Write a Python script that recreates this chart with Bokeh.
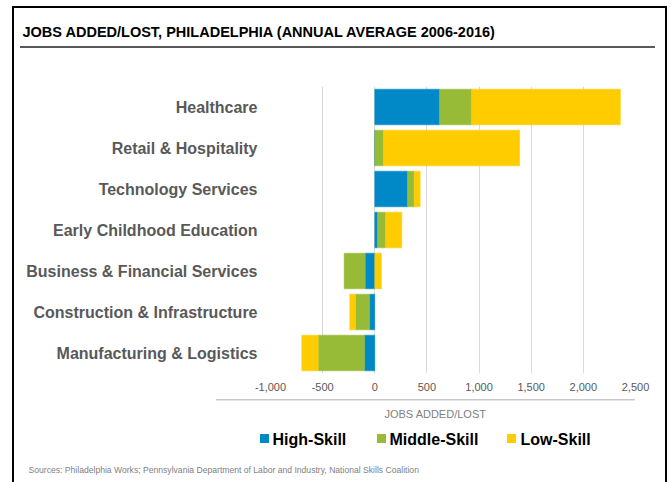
from bokeh.plotting import figure
from bokeh.models import (Range1d, FactorRange, FixedTicker, NumeralTickFormatter, Label)
from bokeh.embed import file_html
from bokeh.resources import INLINE

categories = ["Healthcare", "Retail & Hospitality", "Technology Services",
              "Early Childhood Education", "Business & Financial Services",
              "Construction & Infrastructure", "Manufacturing & Logistics"]
high_skill = [621, 0, 314, 26, -92, -51, -99]
middle_skill = [307, 83, 64, 77, -202, -134, -444]
low_skill = [1427, 1306, 57, 156, 64, -55, -157]
x_ticks = [-1000, -500, 0, 500, 1000, 1500, 2000, 2500]
series_names = ["High-Skill", "Middle-Skill", "Low-Skill"]
colors = ["#0088C7", "#97BB36", "#FFCC00"]
title_text = "JOBS ADDED/LOST, PHILADELPHIA (ANNUAL AVERAGE 2006-2016)"
x_label = "JOBS ADDED/LOST"
source_text = ("Sources: Philadelphia Works; Pennsylvania Department of Labor and Industry, "
               "National Skills Coalition")

FONT = "Liberation Sans"
W, H = 671, 482

# legend layout (canvas pixels): swatch left edge and label left edge per series
legend_swatch_x = [260, 377, 507]
legend_text_x = [272, 389, 520]

# page frame, title rule, axis rule and legend swatches as CSS background of the figure
bg_images = (["linear-gradient(#000, #000)"] * 3
             + ["linear-gradient(#595959, #595959)", "linear-gradient(#c8c8c8, #c8c8c8)"]
             + ["linear-gradient(%s, %s)" % (c, c) for c in colors])
bg_sizes = (["2px 482px", "2px 482px", "655px 2px", "635px 2px", "419px 1.5px"]
            + ["9px 9px"] * len(colors))
bg_pos = (["12px 6px", "665px 6px", "12px 6px", "20px 46px", "216px 398.5px"]
          + ["%dpx 434px" % sx for sx in legend_swatch_x])
frame_css = {
    "background-color": "white",
    "background-image": ", ".join(bg_images),
    "background-size": ", ".join(bg_sizes),
    "background-position": ", ".join(bg_pos),
    "background-repeat": "no-repeat",
}

p = figure(width=W, height=H, output_backend="svg", toolbar_location=None,
           y_range=FactorRange(*categories[::-1]), x_range=Range1d(-1000, 2500),
           min_border_left=270, min_border_right=36, min_border_top=86,
           min_border_bottom=109, background_fill_color="white",
           border_fill_color=None, styles=frame_css)
p.outline_line_color = None

# stacked bars: positives stack right of 0, negatives stack left of 0
n = len(categories)
pos_base = [0.0] * n
neg_base = [0.0] * n
renderers = []
for vals, col, nm in zip([high_skill, middle_skill, low_skill], colors, series_names):
    left, right = [], []
    for i, v in enumerate(vals):
        if v >= 0:
            left.append(pos_base[i]); right.append(pos_base[i] + v); pos_base[i] += v
        else:
            right.append(neg_base[i]); left.append(neg_base[i] + v); neg_base[i] += v
    r = p.hbar(y=categories, left=left, right=right, height=0.87,
               fill_color=col, line_color=col, line_width=0.5, name=nm)
    renderers.append(r)

# axes
ticker = FixedTicker(ticks=x_ticks)
p.xaxis.ticker = ticker
p.xgrid.ticker = ticker
p.xaxis.formatter = NumeralTickFormatter(format="0,0")
p.xaxis.axis_line_color = None
p.xaxis.major_tick_line_color = None
p.xaxis.minor_tick_line_color = None
p.xaxis.major_tick_out = 0
p.xaxis.major_tick_in = 0
p.xaxis.minor_tick_out = 0
p.xaxis.major_label_text_font = FONT
p.xaxis.major_label_text_font_size = "11px"
p.xaxis.major_label_text_color = "#595959"
p.xaxis.major_label_standoff = 9

p.yaxis.axis_line_color = None
p.yaxis.major_tick_line_color = None
p.yaxis.minor_tick_line_color = None
p.yaxis.major_tick_out = 0
p.yaxis.major_tick_in = 0
p.yaxis.minor_tick_out = 0
p.yaxis.major_label_text_font = FONT
p.yaxis.major_label_text_font_size = "16px"
p.yaxis.major_label_text_font_style = "bold"
p.yaxis.major_label_text_color = "#595959"
p.yaxis.major_label_standoff = 13

p.xgrid.grid_line_color = "#d9d9d9"
p.ygrid.grid_line_color = None


def canvas_label(x, y, text, size, color, bold=False, align="left"):
    return Label(x=x, y=y, x_units="canvas", y_units="canvas", text=text,
                 text_font=FONT, text_font_size=size,
                 text_font_style="bold" if bold else "normal",
                 text_color=color, text_baseline="middle", text_align=align)

# texts outside the plot frame (canvas pixels, in side panels so they are not clipped)
p.add_layout(canvas_label(22, 31.5, title_text, "14.5px", "black", bold=True), "above")
p.add_layout(canvas_label(28, 469.5, source_text, "8.6px", "#7f7f7f"), "above")
p.add_layout(canvas_label(435, 413.5, x_label, "11px", "#7f7f7f", align="center"), "below")

# legend texts next to the CSS swatches
for k, (tx, nm) in enumerate(zip(legend_text_x, series_names)):
    p.add_layout(canvas_label(tx, 438.5, nm, "16px", "black", bold=True),
                 "above" if k < 2 else "below")

open("out.html", "w").write(file_html(p, INLINE))
